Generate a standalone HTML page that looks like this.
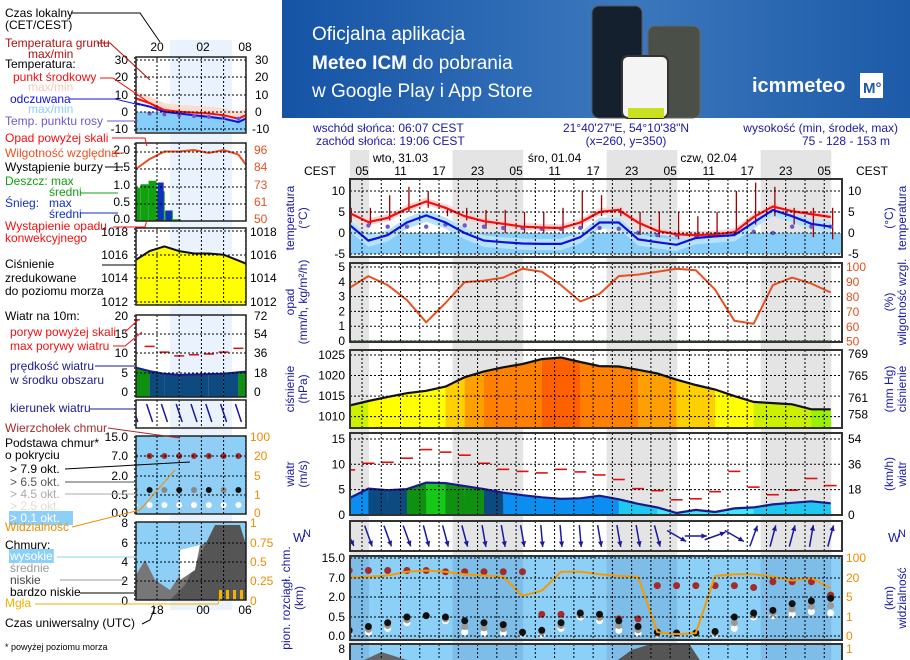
<!DOCTYPE html>
<html><head><meta charset="utf-8">
<style>
html,body{margin:0;padding:0;background:#fff;}
svg{display:block;font-family:"Liberation Sans",sans-serif;}
</style></head>
<body>
<svg id="root" width="910" height="660" viewBox="0 0 910 660" xmlns="http://www.w3.org/2000/svg">
<defs>
<linearGradient id="bg" x1="0" y1="0" x2="1" y2="0"><stop offset="0" stop-color="#1553a6"/><stop offset="0.55" stop-color="#3b78bd"/><stop offset="1" stop-color="#1d5aa8"/></linearGradient>
<clipPath id="mainClip"><rect x="350" y="150" width="492" height="510"/></clipPath>
<clipPath id="miniClip"><rect x="136" y="40" width="110" height="570"/></clipPath>
</defs>
<g>
<rect x="282" y="0" width="628" height="118" fill="url(#bg)"/>
<text x="312" y="40" font-size="19" fill="#fff">Oficjalna aplikacja</text>
<text x="312" y="69" font-size="19" fill="#fff"><tspan font-weight="bold">Meteo ICM</tspan> do pobrania</text>
<text x="312" y="97" font-size="19" fill="#fff">w Google Play i App Store</text>
<rect x="592" y="6" width="50" height="112" rx="7" fill="#15202e" stroke="#555"/>
<rect x="648" y="26" width="52" height="92" rx="7" fill="#4a4f48" stroke="#666"/>
<rect x="622" y="56" width="46" height="62" rx="6" fill="#f4f4f4" stroke="#333" stroke-width="2"/>
<rect x="628" y="108" width="36" height="10" fill="#c9e020"/>
<text x="752" y="92" font-size="20" font-weight="bold" fill="#fff">icmmeteo</text>
<rect x="860" y="73" width="23" height="25" fill="#fff"/>
<text x="863" y="93" font-size="15" font-weight="bold" fill="#1d5aa8">M°</text>
</g>
<g id="main"></g>
<g id="mini"></g>
</svg>
<script>
// ---------- MAIN CHART DATA (3-hourly, hours since 00:00 day 1, local) ----------
const hours = [3,6,9,12,15,18,21,24,27,30,33,36,39,42,45,48,51,54,57,60,63,66,69,72,75,78];
const tempMid = [4.8,2.6,3.6,5.8,7.5,6.0,4.0,2.8,2.2,1.5,1.3,1.2,2.5,5.0,5.5,2.5,0.5,-0.3,-0.5,-0.3,0.2,3.8,6.3,5.2,4.5,3.8];
const tempFeel = [2.0,-1.8,-0.5,2.5,4.2,2.5,0.0,-1.8,-2.2,-2.5,-2.6,-2.6,-1.0,2.5,2.5,-1.5,-2.2,-2.8,-1.2,-0.8,-0.5,2.5,5.5,4.0,2.2,1.5];
const dewPoint = [1.8,1.8,1.5,1.5,1.5,2.0,1.8,1.5,1.2,1.2,1.0,1.0,1.2,1.2,1.0,0.0,-0.5,-0.5,-0.5,-0.3,0.0,0.3,0.0,1.5,1.5,1.5];
const groundMax = [6,6,9,11,10,6,6,5.5,5.5,5,5,6,10,9,6,5,5,5,4,5,10,12,11,6,6,6];
const groundMin = [2.5,2,3,5,6,4,3,1,0,0,0,0,1,4,4,-0.5,-1,-1.5,-1,-1,0,2,4,2,-1,-1.5];
const humidity = [86,94,88,78,63,76,90,91,93,99,97,88,77,82,94,95,97,99,98,85,64,62,88,93,89,83];
const precip = [0,0,0,0,0,0,0,0,0,0,0,0,0,0,0,0,0,0,0,0,0,0,0,0,0,0];
const pressure = [1012.7,1013.8,1014.8,1015.7,1016.3,1017.3,1019.6,1021,1022,1022.8,1024,1024.4,1023.3,1022.3,1022.2,1021.4,1020.5,1019,1017.7,1016.6,1015,1013.6,1013.3,1013,1011.8,1011.8];
const windSpeed = [3.3,5.2,4.9,5.1,6.4,6.3,5.7,5.1,4.4,3.9,3.5,3.2,3.3,3.8,3.1,2.2,1.5,0.4,1.0,0.6,1.3,1.5,2.1,2.4,2.7,2.3];
const windGust = [8.9,10.2,10.4,11.2,12.9,12.4,11.8,10.2,9.0,8.6,8.3,9.0,8.5,7.9,7.0,5.2,4.8,3.0,3.2,4.6,8.6,5.5,4.0,4.9,7.2,5.8];
const windDir = [335,340,340,340,345,345,345,350,350,350,355,355,355,350,350,350,345,300,270,250,300,200,195,195,190,195];
const cloudTop = [10,10,10,10,10,9.5,9.5,9.5,9.5,9.5,0.7,0.7,0.7,0.7,0.45,0.45,5,5,5,5,5,4.5,6,6,6,2.5];
const baseDark = [0.15,0.25,0.35,0.5,0.6,0.5,0.4,0.35,0.3,0.1,0.15,0.35,0.8,0.7,0.4,0.25,0.1,0.08,0.08,0.12,0.5,0.8,1.0,1.5,1.7,1.9];
const baseLight = [0.05,0.1,0.2,0.35,0.6,0.4,0.1,0.08,0.08,0.05,0.05,0.2,0.5,0.4,0.15,0.08,0.05,0.05,0.05,0.05,0.2,0.5,0.6,0.7,0.9,0.8];
const visibility = [22,25,30,45,50,45,35,30,25,6,10,45,45,35,28,25,0.2,0.1,0.15,28,35,35,25,18,20,12];
const nightStart = [-5,19.1,43.1,67.1];
const nightEnd = [6.1,30.1,54.1,78.1];
const hourLabels = ['05','11','17','23','05','11','17','23','05','11','17','23','05'];
const hourTicks = [5,11,17,23,29,35,41,47,53,59,65,71,77];
const dayLabels = ['wto, 31.03','śro, 01.04','czw, 02.04'];
const dayTicks = [11,35,59];
const tempTicks = [10,5,0,-5];
const precipTicks = [5,4,3,2,1,0];
const humTicks = [100,90,80,70,60,50];
const presTicks = [1025,1020,1015,1010];
const mmhgTicks = [769,765,761,758];
const windTicks = [15,10,5,0];
const kmhTicks = [54,36,18,0];
const cbTicks = ['0.0','0.5','2.0','7.0','15.0'];
const visTicks = ['0','1','5','20','100'];

// ---------- MINI LEGEND CHART DATA (local hours) ----------
const mHours = [17,19,21,23,25,27,29,31,33];
const mTemp = [8,5,1,0,-0.5,-1,-2,-4,0];
const mFeel = [5,3,0,-1,-2,-3,-4,-6,-2];
const mDew = [-1,-1,-1.5,-2,-2.5,-3,-3.5,-4,-3];
const mHum = [83,90,95,95,96,94,96,93,80];
const mPres = [1015.5,1016.3,1016.7,1016.3,1016.1,1016.1,1016.0,1015.5,1015];
const mWind = [6.5,5.5,4.8,4.5,4.6,4.7,4.8,5.2,5.5];
const mGust = [19,12,10.5,9.5,9.8,10,10.5,11.5,12];
const mRainH = [17.2,18.3,19.4,20.5,21.6,22.7];
const mRain = [0.95,1.05,1.15,0.85,0.3,0.05];
const mSnow = [0,0,0,1.1,0.3,0];

const NS='http://www.w3.org/2000/svg';
function mk(parent,tag,attrs,txt){const e=document.createElementNS(NS,tag);for(const k in attrs)e.setAttribute(k,attrs[k]);if(txt!==undefined)e.textContent=txt;parent.appendChild(e);return e;}
const main=document.getElementById('main');
const mini=document.getElementById('mini');
const X=h=>329.9+6.42*h;
const yT=v=>233-4.2*v;
const yP=v=>341-14.8*v;
const yH=v=>341.7-(v-50)*1.49;
const yPr=v=>355+(1025-v)*4.11;
const yW=v=>515-5.07*v;
function piece(stops,ys,v){for(let i=0;i<stops.length-1;i++){if(v<=stops[i+1]){return ys[i]+(v-stops[i])/(stops[i+1]-stops[i])*(ys[i+1]-ys[i]);}}return ys[ys.length-1];}
const cbY=[636,617,597,578,558];
const yC=v=>piece([0,0.5,2,7,15],cbY,v);
const yV=v=>piece([0,1,5,20,100],cbY,v);
const BLUE='#1a1aa0';

let e;
e=mk(main,'text',{x:313,y:132,'font-size':12,fill:BLUE},'wschód słońca: 06:07 CEST');


e=mk(main,'text',{x:316,y:145,'font-size':12,fill:BLUE},'zachód słońca: 19:06 CEST');


e=mk(main,'text',{x:626,y:132,'font-size':12,fill:BLUE,'text-anchor':'middle'},'21°40\'27"E, 54°10\'38"N');


e=mk(main,'text',{x:626,y:145,'font-size':12,fill:BLUE,'text-anchor':'middle'},'(x=260,  y=350)');


e=mk(main,'text',{x:898,y:132,'font-size':12,fill:BLUE,'text-anchor':'end'},'wysokość (min, środek, max)');


e=mk(main,'text',{x:846,y:145,'font-size':12,fill:BLUE,'text-anchor':'middle'},'75 - 128 - 153 m');



const bands=mk(main,'g',{'clip-path':'url(#mainClip)'});


nightStart.forEach((s,i)=>{
  const r=mk(bands,'rect',{x:X(s),y:150,width:X(nightEnd[i])-X(s),height:510,fill:'#e4e4e4'});
  
  
});

dayLabels.forEach((d,i)=>{const t=mk(main,'text',{x:X(dayTicks[i]),y:162,'font-size':12,'text-anchor':'middle'},d);

});
hourLabels.forEach((d,i)=>{const t=mk(main,'text',{x:X(hourTicks[i]),y:175,'font-size':12,'text-anchor':'middle'},d);

});
e=mk(main,'text',{x:320,y:175,'font-size':12,'text-anchor':'middle'},'CEST');


e=mk(main,'text',{x:872,y:175,'font-size':12,'text-anchor':'middle'},'CEST');



const panels=[['temperature-panel',179,257,'none'],['precip-panel',263,342,'none'],['pressure-panel',350,428,'none'],['wind-panel',433,515,'none'],['wind-dir-panel',521,551,'none'],['cloud-base-panel',556,640,'#8dd0f7'],['clouds-panel',644,664,'#8dd0f7']];
const pg=mk(main,'g',{});


panels.forEach(p=>{if(p[3]!=='none'){const r=mk(pg,'rect',{x:350,y:p[1],width:492,height:p[2]-p[1],fill:p[3]});


nightStart.forEach((s,i)=>{const b=mk(pg,'rect',{x:Math.max(350,X(s)),y:p[1],width:Math.min(842,X(nightEnd[i]))-Math.max(350,X(s)),height:p[2]-p[1],fill:'rgba(20,60,120,0.12)'});

});}});

function poly(parent,pts,attrs){return mk(parent,'polygon',Object.assign({points:pts.map(p=>p[0].toFixed(1)+','+p[1].toFixed(1)).join(' ')},attrs));}
function pline(parent,pts,attrs){return mk(parent,'polyline',Object.assign({points:pts.map(p=>p[0].toFixed(1)+','+p[1].toFixed(1)).join(' '),fill:'none'},attrs));}
const data=mk(main,'g',{'clip-path':'url(#mainClip)'});



e=mk(data,'rect',{x:350,y:yT(0),width:492,height:yT(-5)-yT(0),fill:'#86cdf9'});


e=poly(data,hours.map((h,i)=>[X(h),yT(tempFeel[i]+1.2)]).concat(hours.map((h,i)=>[X(h),yT(tempFeel[i]-1.5)]).reverse()),{fill:'#b6e2fb'});


e=poly(data,hours.map((h,i)=>[X(h),yT(tempMid[i]+0.9)]).concat(hours.map((h,i)=>[X(h),yT(tempMid[i]-0.8)]).reverse()),{fill:'#fcd4d4'});


hours.forEach((h,i)=>{const l=mk(data,'line',{x1:X(h)+2,x2:X(h)+2,y1:yT(groundMin[i]),y2:yT(groundMax[i]),stroke:'#a00000','stroke-width':1.3});

});
hours.forEach((h,i)=>{const c=mk(data,'circle',{cx:X(h),cy:yT(dewPoint[i]),r:2.2,fill:'#6a5acd'});

});
e=pline(data,hours.map((h,i)=>[X(h),yT(tempFeel[i])]),{stroke:'#1010e0','stroke-width':2.2});


e=pline(data,hours.map((h,i)=>[X(h),yT(tempMid[i])]),{stroke:'#f01010','stroke-width':2.2});



e=pline(data,hours.map((h,i)=>[X(h),yP(precip[i])]),{stroke:'#109010','stroke-width':1});


e=pline(data,hours.map((h,i)=>[X(h),yH(humidity[i])]),{stroke:'#e85020','stroke-width':2,'stroke-linejoin':'round'});



function presColor(v){if(v<1012.3)return '#99f000';if(v<1014)return '#ccf000';if(v<1017)return '#ffff00';if(v<1019)return '#ffd000';if(v<1021)return '#ffa000';if(v<1023.5)return '#ff8000';return '#ff6000';}
for(let i=0;i<hours.length-1;i++){const p=poly(data,[[X(hours[i]),yPr(pressure[i])],[X(hours[i+1]),yPr(pressure[i+1])],[X(hours[i+1])+0.5,428],[X(hours[i]),428]],{fill:presColor((pressure[i]+pressure[i+1])/2)});

}
e=poly(data,[[342,yPr(pressure[0])],[X(3),yPr(pressure[0])],[X(3),428],[342,428]],{fill:presColor(pressure[0])});


e=pline(data,hours.map((h,i)=>[X(h),yPr(pressure[i])]),{stroke:'#111','stroke-width':2.2});



function windColor(v){if(v>6)return '#18c818';if(v>5.3)return '#109010';if(v>4.5)return '#0d4a80';if(v>2.9)return '#0c8ef0';if(v>1.4)return '#20c8f0';return '#40e8ff';}
for(let i=0;i<hours.length-1;i++){const p=poly(data,[[X(hours[i]),yW(windSpeed[i])],[X(hours[i+1]),yW(windSpeed[i+1])],[X(hours[i+1])+0.5,515],[X(hours[i]),515]],{fill:windColor((windSpeed[i]+windSpeed[i+1])/2)});

}
e=poly(data,[[342,yW(windSpeed[0])],[X(3),yW(windSpeed[0])],[X(3),515],[342,515]],{fill:windColor(windSpeed[0])});


e=pline(data,hours.map((h,i)=>[X(h),yW(windSpeed[i])]),{stroke:'#1a1a8c','stroke-width':2.2});


hours.forEach((h,i)=>{const l=mk(data,'line',{x1:X(h)-6,x2:X(h)+6,y1:yW(windGust[i]),y2:yW(windGust[i]),stroke:'#e01010','stroke-width':1.6});

});

hours.forEach((h,i)=>{const to=(windDir[i]+180)*Math.PI/180;const dx=Math.sin(to)*11,dy=-Math.cos(to)*11;const cx=X(h),cy=536;
const g=mk(data,'g',{});


mk(g,'line',{x1:cx-dx,y1:cy-dy,x2:cx+dx,y2:cy+dy,stroke:'#1a1a9c','stroke-width':1.5});
const a=Math.atan2(dy,dx);
mk(g,'polygon',{points:[[cx+dx,cy+dy],[cx+dx-6*Math.cos(a-0.45),cy+dy-6*Math.sin(a-0.45)],[cx+dx-6*Math.cos(a+0.45),cy+dy-6*Math.sin(a+0.45)]].map(p=>p.join(',')).join(' '),fill:'#1a1a9c'});});

hours.forEach((h,i)=>{const c=mk(data,'circle',{cx:X(h),cy:yC(cloudTop[i]),r:3.5,fill:'#a52a2a'});

});
hours.forEach((h,i)=>{const c=mk(data,'circle',{cx:X(h),cy:yC(baseLight[i]),r:3.5,fill:'#ffffff'});


const c2=mk(data,'circle',{cx:X(h),cy:(yC(baseLight[i])+yC(baseDark[i]))/2,r:3.5,fill:'#999'});


const c3=mk(data,'circle',{cx:X(h),cy:yC(baseDark[i]),r:3.5,fill:'#111'});

});
e=pline(data,hours.map((h,i)=>[X(h),yV(visibility[i])]),{stroke:'#f59a00','stroke-width':2});


e=poly(data,[[X(44),664],[X(47),650],[X(50),644],[X(56),644],[X(58),664]],{fill:'#555'});


e=poly(data,[[X(4),664],[X(8),652],[X(14),664]],{fill:'#666'});



const grid=mk(main,'g',{});


function hgrid(top,bot,ys){ys.forEach(y=>mk(grid,'line',{x1:350,x2:842,y1:y,y2:y,stroke:'#000','stroke-width':1,'stroke-dasharray':'2,2'}));
for(let h=5;h<79;h+=3){mk(grid,'line',{x1:X(h),x2:X(h),y1:top,y2:bot,stroke:'#000','stroke-width':1,'stroke-dasharray':'2,2'});}
mk(grid,'rect',{x:350,y:top,width:492,height:bot-top,fill:'none',stroke:'#333','stroke-width':2});}
function ticks(name,vals,yf,x,anchor,color){vals.forEach(v=>{const t=mk(main,'text',{x:x,y:yf(v)+4,'font-size':12,'text-anchor':anchor,fill:color||'#000'},String(v));

});}
hgrid(179,257,tempTicks.map(yT));
ticks('temp-tick',tempTicks,yT,345,'end');ticks('temp-tick-right',tempTicks,yT,848,'start');
hgrid(263,342,precipTicks.map(yP));
ticks('precip-tick',precipTicks,yP,345,'end');ticks('humidity-tick',humTicks,yH,846,'start','#e85020');
hgrid(350,428,presTicks.map(yPr));
ticks('pressure-tick',presTicks,yPr,345,'end');
mmhgTicks.forEach(v=>{const t=mk(main,'text',{x:848,y:yPr(v*1.33322)+4,'font-size':12},String(v));

});
hgrid(433,515,windTicks.map(yW));
ticks('wind-tick',windTicks,yW,345,'end');
kmhTicks.forEach((v,i)=>{const t=mk(main,'text',{x:848,y:yW(windTicks[i])+4,'font-size':12},String(v));

});
hgrid(521,551,[]);
hgrid(556,640,cbY);
cbTicks.forEach((v,i)=>{const t=mk(main,'text',{x:345,y:cbY[i]+4,'font-size':12,'text-anchor':'end'},v);


const t2=mk(main,'text',{x:846,y:cbY[i]+4,'font-size':12,fill:'#f08c00'},visTicks[i]);

});
hgrid(644,664,[]);
e=mk(main,'text',{x:345,y:653,'font-size':12,'text-anchor':'end'},'8');


e=mk(main,'text',{x:846,y:653,'font-size':12,fill:'#f08c00'},'1');



function vtitle(name,x,y,l1,l2){const t=mk(main,'text',{transform:`translate(${x},${y}) rotate(-90)`,'font-size':12,fill:BLUE,'text-anchor':'middle'});


mk(t,'tspan',{x:0,y:0},l1);if(l2)mk(t,'tspan',{x:0,y:13},l2);}
vtitle('temp-axis-title',294,218,'temperatura','(°C)');
vtitle('precip-axis-title',294,302,'opad','(mm/h, kg/m²/h)');
vtitle('pressure-axis-title',294,389,'ciśnienie','(hPa)');
vtitle('wind-axis-title',294,474,'wiatr','(m/s)');
vtitle('cloud-axis-title',290,598,'pion. rozciągł. chm.','(km)');
vtitle('temp-axis-title-right',893,218,'(°C)','temperatura');
vtitle('humidity-axis-title-right',893,302,'(%)','wilgotność wzgl.');
vtitle('mmhg-axis-title-right',893,389,'(mm Hg)','ciśnienie');
vtitle('kmh-axis-title-right',893,474,'(km/h)','wiatr');
vtitle('visibility-axis-title-right',893,598,'(km)','widzialność');
e=mk(main,'text',{x:293,y:542,'font-size':13,fill:BLUE},'W');


e=mk(main,'text',{x:303,y:537,'font-size':11,fill:BLUE},'N');


e=mk(main,'text',{x:888,y:542,'font-size':13,fill:BLUE},'W');


e=mk(main,'text',{x:898,y:537,'font-size':11,fill:BLUE},'N');



// ---------- MINI LEGEND CHART ----------
const MX=h=>157+(h-20)*7.4;
const mT=v=>60+(30-v)*1.725;
const mHy=v=>150+(96-v)*1.52;
const mPy=v=>221-v*35;
const mPr=v=>231+(1018-v)*11.83;
const mWy=v=>392-v*3.8;
const mg=mk(mini,'g',{'clip-path':'url(#miniClip)'});


e=mk(mg,'rect',{x:136,y:436,width:110,height:78,fill:'#8dd0f7'});


e=mk(mg,'rect',{x:136,y:522,width:110,height:78,fill:'#8dd0f7'});


e=mk(mg,'rect',{x:170,y:40,width:62,height:590,fill:'rgba(160,200,245,0.22)'});


e=mk(mg,'rect',{x:136,y:mT(0),width:110,height:mT(-10)-mT(0)+3,fill:'#86cdf9'});


e=poly(mg,mHours.map((h,i)=>[MX(h),mT(mTemp[i]+4)]).concat(mHours.map((h,i)=>[MX(h),mT(mTemp[i]-1)]).reverse()),{fill:'#fcdcd0'});


e=pline(mg,mHours.map((h,i)=>[MX(h),mT(mFeel[i])]),{stroke:'#1010e0','stroke-width':2});


e=pline(mg,mHours.map((h,i)=>[MX(h),mT(mTemp[i])]),{stroke:'#f01010','stroke-width':2});


mHours.forEach((h,i)=>{const c=mk(mg,'circle',{cx:MX(h),cy:mT(mDew[i]),r:2,fill:'#6a5acd'});

});
mRainH.forEach((h,i)=>{const r=mk(mg,'rect',{x:MX(h)-4,y:mPy(mRain[i]),width:8,height:mPy(0)-mPy(mRain[i]),fill:'#10a010'});


if(mSnow[i]>0){const s=mk(mg,'rect',{x:MX(h)-3,y:mPy(mSnow[i]),width:6,height:mPy(0)-mPy(mSnow[i]),fill:'#1030c0'});

}});
e=pline(mg,mHours.map((h,i)=>[MX(h),mHy(mHum[i])]),{stroke:'#e85020','stroke-width':2});


e=poly(mg,mHours.map((h,i)=>[MX(h),mPr(mPres[i])]).concat([[MX(33),305],[MX(17),305]]),{fill:'#ffff00'});


e=pline(mg,mHours.map((h,i)=>[MX(h),mPr(mPres[i])]),{stroke:'#111','stroke-width':2});


for(let i=0;i<mHours.length-1;i++){const p=poly(mg,[[MX(mHours[i]),mWy(mWind[i])],[MX(mHours[i+1]),mWy(mWind[i+1])],[MX(mHours[i+1]),397],[MX(mHours[i]),397]],{fill:windColor((mWind[i]+mWind[i+1])/2)});

}
e=pline(mg,mHours.map((h,i)=>[MX(h),mWy(mWind[i])]),{stroke:'#1a1a8c','stroke-width':2});


mHours.forEach((h,i)=>{const l=mk(mg,'line',{x1:MX(h)-5,x2:MX(h)+5,y1:mWy(mGust[i]),y2:mWy(mGust[i]),stroke:'#e01010','stroke-width':1.5});


const a=mk(mg,'line',{x1:MX(h)-3,y1:404,x2:MX(h)+3,y2:422,stroke:'#1a1a9c','stroke-width':1.5});


const c=mk(mg,'circle',{cx:MX(h),cy:456,r:3,fill:'#a52a2a'});


const c2=mk(mg,'circle',{cx:MX(h),cy:490,r:3,fill:i%2?'#111':'#888'});


const c3=mk(mg,'circle',{cx:MX(h),cy:505,r:3,fill:'#fff'});

});
e=poly(mg,[[136,600],[136,575],[145,560],[155,580],[170,590],[190,560],[200,545],[215,540],[225,535],[235,540],[246,560],[246,600]],{fill:'#777'});


e=poly(mg,[[170,600],[185,585],[200,555],[215,525],[240,525],[246,545],[246,600]],{fill:'#555'});


e=poly(mg,[[180,580],[195,570],[200,545],[180,550]],{fill:'#fff'});


[219,226,233,240].forEach(x=>{const r=mk(mg,'rect',{x:x,y:590,width:3,height:10,fill:'#f5b000'});

});
const mgrid=mk(mini,'g',{});


function mbox(top,bot,ys){ys.forEach(y=>mk(mgrid,'line',{x1:136,x2:246,y1:y,y2:y,stroke:'#000','stroke-dasharray':'2,2'}));
[17,20,23,26,29,32].forEach(h=>mk(mgrid,'line',{x1:MX(h),x2:MX(h),y1:top,y2:bot,stroke:'#000','stroke-dasharray':'2,2'}));
mk(mgrid,'rect',{x:136,y:top,width:110,height:bot-top,fill:'none',stroke:'#222','stroke-width':1.5});}
mbox(57,133,[60,77,95,112,129]);mbox(143,221,[152,169,187,204]);mbox(228,305,[231,255,278,302]);mbox(315,397,[334,353,373]);mbox(400,428,[]);mbox(436,514,[456,476,495]);mbox(522,600,[543,562,581]);
const mTicks=[['30',128,64],['20',128,81],['10',128,99],['0',128,116],['-10',128,133],['2.0',130,154],['1.5',130,171],['1.0',130,189],['0.5',130,206],['0.0',130,223],['1018',128,236],['1016',128,259],['1014',128,282],['1012',128,306],['20',128,320],['15',128,338],['10',128,357],['5',128,377],['0',128,396],['15.0',128,441],['7.0',128,460],['2.0',128,480],['0.5',128,499],['0.0',128,517],['8',128,527],['6',128,547],['4',128,566],['2',128,585],['0',128,605]];
mTicks.forEach(t=>{const x=mk(mini,'text',{x:t[1],y:t[2],'font-size':12,'text-anchor':'end'},t[0]);

});
const mRTicks=[['30',255,64,'#000'],['20',255,81,'#000'],['10',255,99,'#000'],['0',255,116,'#000'],['-10',252,133,'#000'],['96',254,154,'#e85020'],['84',254,171,'#e85020'],['73',254,189,'#e85020'],['61',254,206,'#e85020'],['50',254,223,'#e85020'],['1018',250,236,'#000'],['1016',250,259,'#000'],['1014',250,282,'#000'],['1012',250,306,'#000'],['72',254,320,'#000'],['54',254,338,'#000'],['36',254,357,'#000'],['18',254,377,'#000'],['0',254,396,'#000'],['100',250,441,'#f08c00'],['20',254,460,'#f08c00'],['5',254,480,'#f08c00'],['1',254,499,'#f08c00'],['0',254,517,'#f08c00'],['1',250,527,'#f08c00'],['0.75',250,547,'#f08c00'],['0.5',250,566,'#f08c00'],['0.25',250,585,'#f08c00'],['0',250,605,'#f08c00']];
mRTicks.forEach(t=>{const x=mk(mini,'text',{x:t[1],y:t[2],'font-size':12,fill:t[3]},t[0]);

});
[['20',157,51],['02',203,51],['08',245,51],['18',157,614],['00',203,614],['06',245,614]].forEach(t=>{const x=mk(mini,'text',{x:t[1],y:t[2],'font-size':12,'text-anchor':'middle'},t[0]);

});
const labels=[['Czas lokalny',5,17,'#000'],['(CET/CEST)',5,29,'#000'],['Temperatura gruntu',5,47,'#b01010'],['max/min',28,58,'#b01010'],['Temperatura:',5,68,'#000'],['punkt środkowy',13,81,'#f01010'],['max/min',28,91,'#f8c8b8'],['odczuwana',10,103,'#1010e0'],['max/min',28,113,'#8cd0f8'],['Temp. punktu rosy',5,125,'#6a5acd'],['Opad powyżej skali',5,142,'#f01010'],['Wilgotność względna',5,157,'#e85020'],['Wystąpienie burzy',5,171,'#000'],['Deszcz: max',5,185,'#10a010'],['średni',49,196,'#10a010'],['Śnieg:',5,207,'#1030c0'],['max',49,207,'#1030c0'],['średni',49,218,'#1030c0'],['Wystąpienie opadu',5,230,'#f01010'],['konwekcyjnego',5,242,'#f01010'],['Ciśnienie',5,268,'#000'],['zredukowane',5,282,'#000'],['do poziomu morza',5,295,'#000'],['Wiatr na 10m:',5,320,'#000'],['poryw powyżej skali',10,336,'#f01010'],['max porywy wiatru',10,350,'#f01010'],['prędkość wiatru',10,370,'#1a1a8c'],['w środku obszaru',10,384,'#1a1a8c'],['kierunek wiatru',10,412,'#1a1a8c'],['Wierzchołek chmur',5,432,'#a52a2a'],['Podstawa chmur*',5,447,'#000'],['o pokryciu',5,459,'#000'],['> 7.9 okt.',10,473,'#000'],['> 6.5 okt.',10,486,'#555'],['> 4.5 okt.',10,498,'#aaa'],['> 2.5 okt.',10,510,'#ddd'],['> 0.1 okt.',10,522,'#fff','#8dd0f7'],['Widzialność',5,531,'#f08c00'],['Chmury:',5,549,'#000'],['wysokie',10,560,'#fff','#8dd0f7'],['średnie',10,572,'#999'],['niskie',10,584,'#444'],['bardzo niskie',10,596,'#000'],['Mgła',5,607,'#f5b000'],['Czas uniwersalny (UTC)',5,627,'#000']];
labels.forEach(l=>{if(l[4]){const r=mk(mini,'rect',{x:l[1]-1,y:l[2]-11,width:l[0].length*6.4,height:14,fill:l[4]});

}
const t=mk(mini,'text',{x:l[1],y:l[2],'font-size':12,fill:l[3]},l[0]);

});
e=mk(mini,'text',{x:5,y:650,'font-size':9},'* powyżej poziomu morza');


const leaders=[[[72,13],[140,13],[160,42]],[[97,43],[110,43],[150,80]],[[100,78],[113,78],[160,110]],[[70,99],[115,99],[140,105]],[[107,121],[138,121]],[[112,138],[145,138],[147,146]],[[112,153],[124,153]],[[105,167],[123,167]],[[80,193],[118,193]],[[80,213],[118,213]],[[113,227],[145,227],[147,220]],[[102,265],[136,265]],[[125,332],[138,320]],[[113,346],[125,346],[142,332]],[[95,366],[136,366]],[[90,409],[136,409]],[[108,428],[180,438]],[[65,469],[190,462]],[[65,482],[136,482]],[[65,494],[136,494]],[[72,527],[140,510],[175,470]],[[57,557],[180,557]],[[60,580],[125,580]],[[80,593],[136,593]],[[35,604],[218,604],[220,596]],[[142,624],[150,620],[155,607]]];
const lc=['#000','#b01010','#f01010','#1010e0','#6a5acd','#f01010','#e85020','#000','#10a010','#1030c0','#f01010','#000','#f01010','#f01010','#1a1a8c','#1a1a8c','#a52a2a','#000','#555','#aaa','#f08c00','#8dd0f7','#999','#000','#f5b000','#000'];
leaders.forEach((p,i)=>{const l=pline(mini,p,{stroke:lc[i],'stroke-width':1});

});
</script>
</body></html>
